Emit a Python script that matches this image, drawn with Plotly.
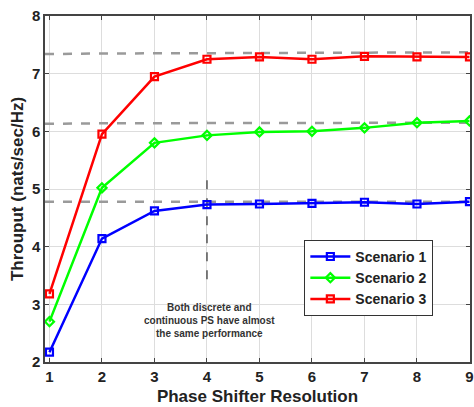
import plotly.graph_objects as go

x = [1, 2, 3, 4, 5, 6, 7, 8, 9]
scenario1 = [2.17, 4.14, 4.62, 4.73, 4.74, 4.75, 4.77, 4.74, 4.78]
scenario2 = [2.70, 5.02, 5.80, 5.93, 5.99, 6.00, 6.06, 6.15, 6.18]
scenario3 = [3.18, 5.95, 6.95, 7.25, 7.29, 7.25, 7.30, 7.29, 7.29]
cont_x = [0.915, 1.9, 2.0, 9.05]
cont1 = [4.78, 4.78, 4.78, 4.78]
cont2 = [6.13, 6.13, 6.14, 6.15]
cont3 = [7.34, 7.34, 7.35, 7.37]
names = ["Scenario 1", "Scenario 2", "Scenario 3"]
colors = ["#0000FF", "#00FF00", "#FF0000"]
symbols = ["square-open", "diamond-open", "square-open"]
vline_x = [4, 4]
vline_y = [5.15, 3.28]
note = "<b>Both discrete and<br>continuous PS have almost<br>the same performance</b>"

fig = go.Figure()
for cy in (cont1, cont2, cont3):
    fig.add_trace(go.Scatter(x=cont_x, y=cy, mode="lines", showlegend=False,
                             line=dict(color="#9a9a9a", width=2.5, dash="dash"),
                             hoverinfo="skip"))
fig.add_trace(go.Scatter(x=vline_x, y=vline_y, mode="lines", showlegend=False,
                         line=dict(color="#555555", width=1.5, dash="dash")))
for ys, n, c, s in zip([scenario1, scenario2, scenario3], names, colors, symbols):
    fig.add_trace(go.Scatter(x=x, y=ys, name=n, mode="lines+markers",
                             line=dict(color=c, width=2.5),
                             marker=dict(symbol=s, size=7, color=c,
                                         line=dict(color=c, width=2.2))))

fig.add_annotation(x=4.05, y=2.72, text=note, showarrow=False,
                   font=dict(family="Liberation Sans", size=10, color="#333333"),
                   align="center")

axis_common = dict(showgrid=True, gridcolor="#dddddd", gridwidth=1,
                   showline=True, linecolor="#444444", linewidth=1.5,
                   mirror="ticks", ticks="inside", ticklen=4, tickcolor="#444444",
                   zeroline=False, ticklabeloverflow="allow",
                   tickfont=dict(family="Liberation Sans", size=15, color="#222222", weight="bold"))
fig.update_xaxes(range=[0.915, 9.01], dtick=1, tick0=1,
                 title=dict(text="<b>Phase Shifter Resolution</b>", standoff=6,
                            font=dict(family="Liberation Sans", size=17, color="#222222")),
                 **axis_common)
fig.update_yaxes(range=[2, 8], dtick=1,
                 title=dict(text="<b>Throuput (nats/sec/Hz)</b>", standoff=4,
                            font=dict(family="Liberation Sans", size=17, color="#222222")),
                 **axis_common)

fig.update_layout(
    width=474, height=407,
    margin=dict(l=45, r=0, t=16, b=45),
    plot_bgcolor="white", paper_bgcolor="white",
    legend=dict(x=0.762, y=0.243, xanchor="center", yanchor="middle",
                bordercolor="#333333", borderwidth=1, bgcolor="white",
                font=dict(family="Liberation Sans", size=14, color="#222222", weight="bold"),
                itemwidth=40),
)
fig.write_html("out.html")
